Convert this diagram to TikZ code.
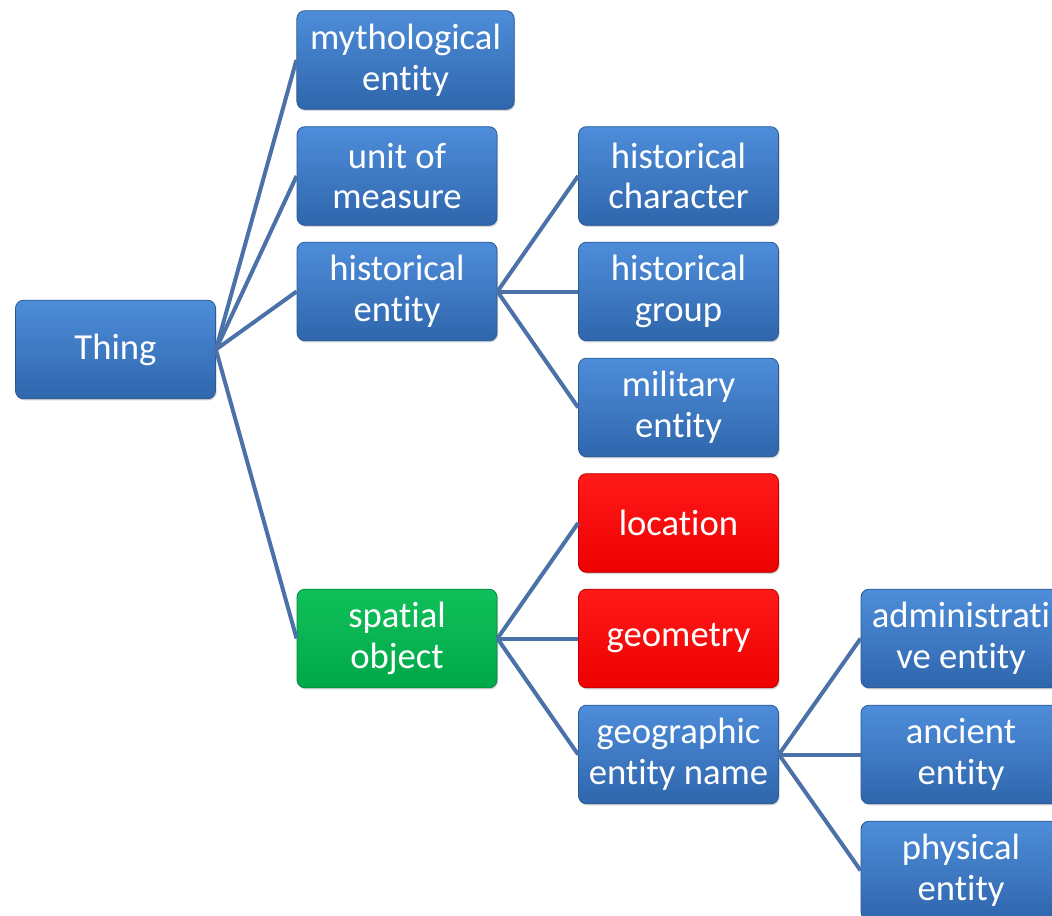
\documentclass[tikz,border=0pt]{standalone}
\usepackage{fontspec}
\setmainfont{Carlito}[Ligatures=NoCommon]
\usetikzlibrary{shadows}
\definecolor{bluetop}{HTML}{4E8DDA}
\definecolor{bluebot}{HTML}{2F66AC}
\definecolor{blueedge}{HTML}{2A5A96}
\definecolor{redtop}{HTML}{FF1A1A}
\definecolor{redbot}{HTML}{EE0000}
\definecolor{rededge}{HTML}{C00000}
\definecolor{greentop}{HTML}{10C05A}
\definecolor{greenbot}{HTML}{00A848}
\definecolor{greenedge}{HTML}{008A3A}
\definecolor{conncol}{HTML}{4A72A8}
\tikzset{
  box/.style={rectangle, rounded corners=6pt, minimum width=150pt, minimum height=74pt,
    inner sep=0pt, align=center, text=white, font=\fontsize{27.5}{30.5}\selectfont,
    draw=blueedge, line width=0.6pt, top color=bluetop, bottom color=bluebot,
    drop shadow={shadow xshift=0.8pt, shadow yshift=-1.2pt, opacity=0.35}},
  redbox/.style={box, draw=rededge, top color=redtop, bottom color=redbot},
  greenbox/.style={box, draw=greenedge, top color=greentop, bottom color=greenbot},
  conn/.style={draw=conncol, line width=3pt}
}
\begin{document}
\begin{tikzpicture}[x=0.75pt, y=-0.75pt]
\useasboundingbox (0,0) rectangle (1052,916);
\node[box] (thing) at (115.5,349.5) {Thing};
\node[box, minimum width=163pt] (myth) at (405.5,60) {mythological\\entity};
\node[box] (unit) at (397,176) {unit of\\measure};
\node[box] (hent) at (397,291.5) {historical\\entity};
\node[greenbox] (spat) at (397,638.5) {spatial\\object};
\node[box] (hchar) at (678.5,176) {historical\\character};
\node[box] (hgroup) at (678.5,291.5) {historical\\group};
\node[box] (mil) at (678.5,407.5) {military\\entity};
\node[redbox] (loc) at (678.5,523) {location};
\node[redbox] (geom) at (678.5,638.5) {geometry};
\node[box] (geo) at (678.5,754.5) {geographic\\entity name};
\node[box] (adm) at (961,638.5) {administrati\\ve entity};
\node[box] (anc) at (961,754.5) {ancient\\entity};
\node[box] (phys) at (961,870.5) {physical\\entity};
\foreach \c in {myth,unit,hent,spat} \draw[conn] (thing.east) -- (\c.west);
\foreach \c in {hchar,hgroup,mil} \draw[conn] (hent.east) -- (\c.west);
\foreach \c in {loc,geom,geo} \draw[conn] (spat.east) -- (\c.west);
\foreach \c in {adm,anc,phys} \draw[conn] (geo.east) -- (\c.west);
\end{tikzpicture}
\end{document}
